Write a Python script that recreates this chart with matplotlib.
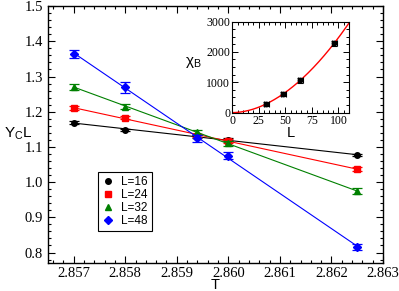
import numpy as np
import matplotlib
matplotlib.use("Agg")
import matplotlib.pyplot as plt
from matplotlib.ticker import MultipleLocator, FormatStrFormatter

# main panel data
T = [2.857, 2.858, 2.8594, 2.8600, 2.8625]
labels = ["L=16", "L=24", "L=32", "L=48"]
colors = ["black", "red", "green", "blue"]
markers = ["o", "s", "^", "D"]
msizes = [4, 4, 5, 4]
yc_16 = [1.169, 1.148, 1.130, 1.120, 1.077]
yc_24 = [1.210, 1.183, 1.132, 1.117, 1.037]
yc_32 = [1.271, 1.214, 1.142, 1.110, 0.974]
yc_48 = [1.364, 1.269, 1.124, 1.075, 0.815]
err_16 = [0.004, 0.004, 0.004, 0.004, 0.004]
err_24 = [0.005, 0.005, 0.005, 0.005, 0.006]
err_32 = [0.008, 0.007, 0.007, 0.007, 0.008]
err_48 = [0.012, 0.016, 0.010, 0.010, 0.008]

# inset data
L_in = [32, 48, 64, 96]
chi_in = [285, 625, 1060, 2280]
chi_err = [60, 70, 70, 80]

ys = [yc_16, yc_24, yc_32, yc_48]
errs = [err_16, err_24, err_32, err_48]

serif = "Liberation Serif"
sans = "Liberation Sans"
plt.rcParams["font.family"] = serif
plt.rcParams["mathtext.default"] = "regular"

fig = plt.figure(figsize=(3.99, 2.91), dpi=100)
ax = fig.add_axes([0.120, 0.096, 0.840, 0.883])

tline = np.linspace(2.857, 2.8625, 50)
handles = []
for y, e, c, m, ms, lab in zip(ys, errs, colors, markers, msizes, labels):
    p = np.polyfit(T, y, 1)
    ax.plot(tline, np.polyval(p, tline), color=c, lw=0.8)
    ax.errorbar(T, y, yerr=e, fmt="none", ecolor=c, capsize=3.5,
                elinewidth=0.9, capthick=0.9)
    h, = ax.plot(T, y, m, color=c, ms=ms, ls="none", label=lab)
    handles.append(h)

ax.set_xlim(2.8565, 2.863)
ax.set_ylim(0.77, 1.5)
ax.xaxis.set_major_locator(MultipleLocator(0.001))
ax.xaxis.set_minor_locator(MultipleLocator(0.0002))
ax.yaxis.set_major_locator(MultipleLocator(0.1))
ax.yaxis.set_minor_locator(MultipleLocator(0.02))
ax.xaxis.set_major_formatter(FormatStrFormatter("%.3f"))
ax.yaxis.set_major_formatter(FormatStrFormatter("%.1f"))
ax.tick_params(which="both", direction="in", top=True, right=True, width=0.8)
ax.tick_params(which="major", length=5, labelsize=10.5)
ax.tick_params(axis="x", pad=2.5)
ax.tick_params(which="minor", length=2.5)
for s in ax.spines.values():
    s.set_linewidth(1.0)
ax.set_xlabel("T", family=sans, fontsize=10.5)
ax.xaxis.set_label_coords(0.5, -0.058)
ax.set_ylabel("Y$_C$L", family=sans, fontsize=11, rotation=0)
ax.yaxis.set_label_coords(-0.09, 0.47)

leg = ax.legend(handles=handles, loc="lower left", bbox_to_anchor=(0.149, 0.125),
                borderaxespad=0, fancybox=False, framealpha=1, edgecolor="black",
                handlelength=1.2, handletextpad=0.5, labelspacing=0.1, borderpad=0.3,
                prop={"family": sans, "size": 8.5})
leg.get_frame().set_linewidth(0.8)
for h in leg.legend_handles:
    h.set_markersize(4)

# inset
ins = fig.add_axes([0.582, 0.613, 0.293, 0.313])
Lcurve = np.linspace(0.5, 110, 200)
b, loga = np.polyfit(np.log(L_in), np.log(chi_in), 1)
ins.plot(Lcurve, np.exp(loga) * Lcurve ** b, color="red", lw=1.0)
ins.errorbar(L_in, chi_in, yerr=chi_err, xerr=2.5, fmt="o", color="black", ms=3.2,
             capsize=2, elinewidth=0.8, capthick=0.8, ls="none")
ins.set_xlim(0, 110)
ins.set_ylim(0, 3000)
ins.xaxis.set_major_locator(MultipleLocator(25))
ins.xaxis.set_minor_locator(MultipleLocator(5))
ins.yaxis.set_major_locator(MultipleLocator(1000))
ins.yaxis.set_minor_locator(MultipleLocator(250))
ins.tick_params(which="both", direction="in", top=True, right=True, width=0.7, pad=1.5)
ins.tick_params(which="major", length=4, labelsize=8.5)
ins.tick_params(which="minor", length=2)
ins.set_xlabel("L", family=sans, fontsize=10.5)
ins.xaxis.set_label_coords(0.5, -0.15)
ins.set_ylabel("χ$_B$", family=sans, fontsize=11, rotation=0)
ins.yaxis.set_label_coords(-0.33, 0.47)

fig.savefig("out.png", dpi=100)
